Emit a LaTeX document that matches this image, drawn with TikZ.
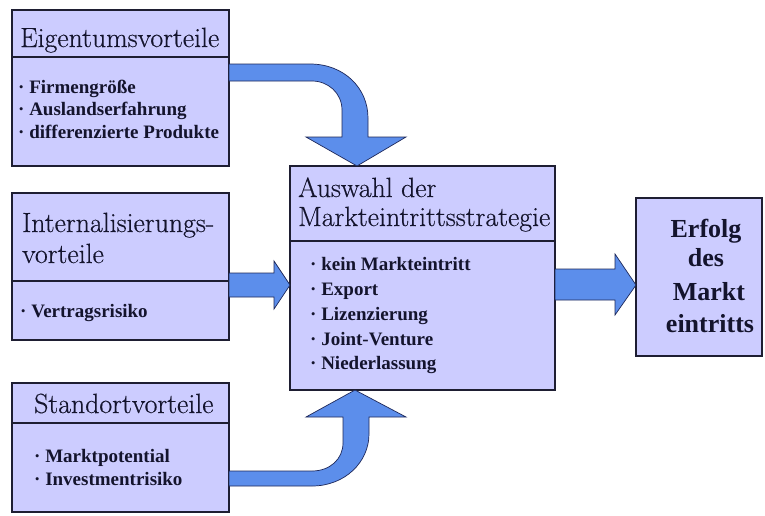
\documentclass[tikz,border=0pt]{standalone}
\usepackage{fontspec}
\setmainfont{Liberation Serif}
\newfontfamily\headfont{Latin Modern Roman}[FakeBold=0.35]
\definecolor{boxfill}{RGB}{204,204,255}
\definecolor{boxline}{RGB}{30,30,50}
\definecolor{arrowfill}{RGB}{92,142,235}
\definecolor{arrowline}{RGB}{30,40,90}
\definecolor{txt}{RGB}{20,20,45}
\begin{document}
\begin{tikzpicture}[x=1pt,y=-1pt,
  box/.style={draw=boxline,fill=boxfill,line width=1.2pt,inner sep=0pt,outer sep=0pt},
  divline/.style={draw=boxline,line width=1.2pt},
  bigarrow/.style={fill=arrowfill,draw=arrowline,line width=0.7pt,line join=miter},
  head/.style={anchor=base west,inner sep=0pt,text=txt,font=\headfont\fontsize{27.8}{27.8}\selectfont},
  item/.style={anchor=base west,inner sep=0pt,text=txt,font=\bfseries\fontsize{19}{19}\selectfont},
  mitem/.style={anchor=base west,inner sep=0pt,text=txt,font=\bfseries\fontsize{19}{19}\selectfont},
  res/.style={anchor=base,inner sep=0pt,text=txt,font=\bfseries\fontsize{26}{26}\selectfont}]
\useasboundingbox[fill=white] (0,0) rectangle (765,515);

% boxes
\node[box,minimum width=217pt,minimum height=156pt] (b1) at (120.5,88) {};
\node[box,minimum width=217pt,minimum height=147pt] (b2) at (120.5,266.5) {};
\node[box,minimum width=217pt,minimum height=129pt] (b3) at (120.5,447.5) {};
\node[box,minimum width=265pt,minimum height=224pt] (m) at (422.5,278) {};
\node[box,minimum width=126pt,minimum height=158pt] (r) at (699,277) {};

% dividers
\coordinate (d1) at (0,57);
\coordinate (d2) at (0,281);
\coordinate (d3) at (0,423);
\coordinate (d4) at (0,241);
\draw[divline] (b1.west |- d1) -- (b1.east |- d1);
\draw[divline] (b2.west |- d2) -- (b2.east |- d2);
\draw[divline] (b3.west |- d3) -- (b3.east |- d3);
\draw[divline] (m.west |- d4) -- (m.east |- d4);

% headings
\node[head] (h1) at (20,47) {Eigentumsvorteile};
\node[head] (h2a) at (22,232) {Internalisierungs-};
\node[head] (h2b) at (22,263) {vorteile};
\node[head] (h3) at (34,413) {Standortvorteile};
\node[head] (hma) at (298,197) {Auswahl der};
\node[head] (hmb) at (298,226) {Markteintrittsstrategie};

% items
\node[item] (i11) at (18,93) {· Firmengröße};
\node[item] (i12) at (18,115.5) {· Auslandserfahrung};
\node[item] (i13) at (18,138) {· differenzierte Produkte};
\node[item] (i21) at (20,317) {· Vertragsrisiko};
\node[item] (i31) at (34,462) {· Marktpotential};
\node[item] (i32) at (34,485) {· Investmentrisiko};

\node[mitem] (m1) at (310,270) {· kein Markteintritt};
\node[mitem] (m2) at (310,295) {· Export};
\node[mitem] (m3) at (310,320) {· Lizenzierung};
\node[mitem] (m4) at (310,345) {· Joint-Venture};
\node[mitem] (m5) at (310,369) {· Niederlassung};

\node[res] (r1) at (706,237) {Erfolg};
\node[res] (r2) at (706,266) {des};
\node[res] (r3) at (709,300) {Markt};
\node[res] (r4) at (710,332) {eintritts};

% straight arrows
\draw[bigarrow] (b2.east |- 0,273) -- (274,273) -- (274,261) -- (m.west |- 0,285) -- (274,309) -- (274,297) -- (b2.east |- 0,297) -- cycle;
\draw[bigarrow] (m.east |- 0,269) -- (615,269) -- (615,254) -- (r.west |- 0,285) -- (615,315) -- (615,300) -- (m.east |- 0,300) -- cycle;

% curved arrow from top box
\draw[bigarrow] (b1.east |- 0,64) -- (310,64) .. controls (344,64) and (368,88) .. (368,118) -- (368,137) -- (406,137) -- (m.north -| 357,0) -- (306,137) -- (342,137) -- (342,110) .. controls (342,93) and (328,81) .. (312,81) -- (b1.east |- 0,81) -- cycle;

% curved arrow from bottom box
\draw[bigarrow] (b3.east |- 0,486) -- (312,486) .. controls (345,486) and (369,462) .. (369,434) -- (369,417) -- (406,417) -- (m.south -| 355,0) -- (306,417) -- (343,417) -- (343,443) .. controls (343,459) and (330,471) .. (312,471) -- (b3.east |- 0,471) -- cycle;
\end{tikzpicture}
\end{document}
